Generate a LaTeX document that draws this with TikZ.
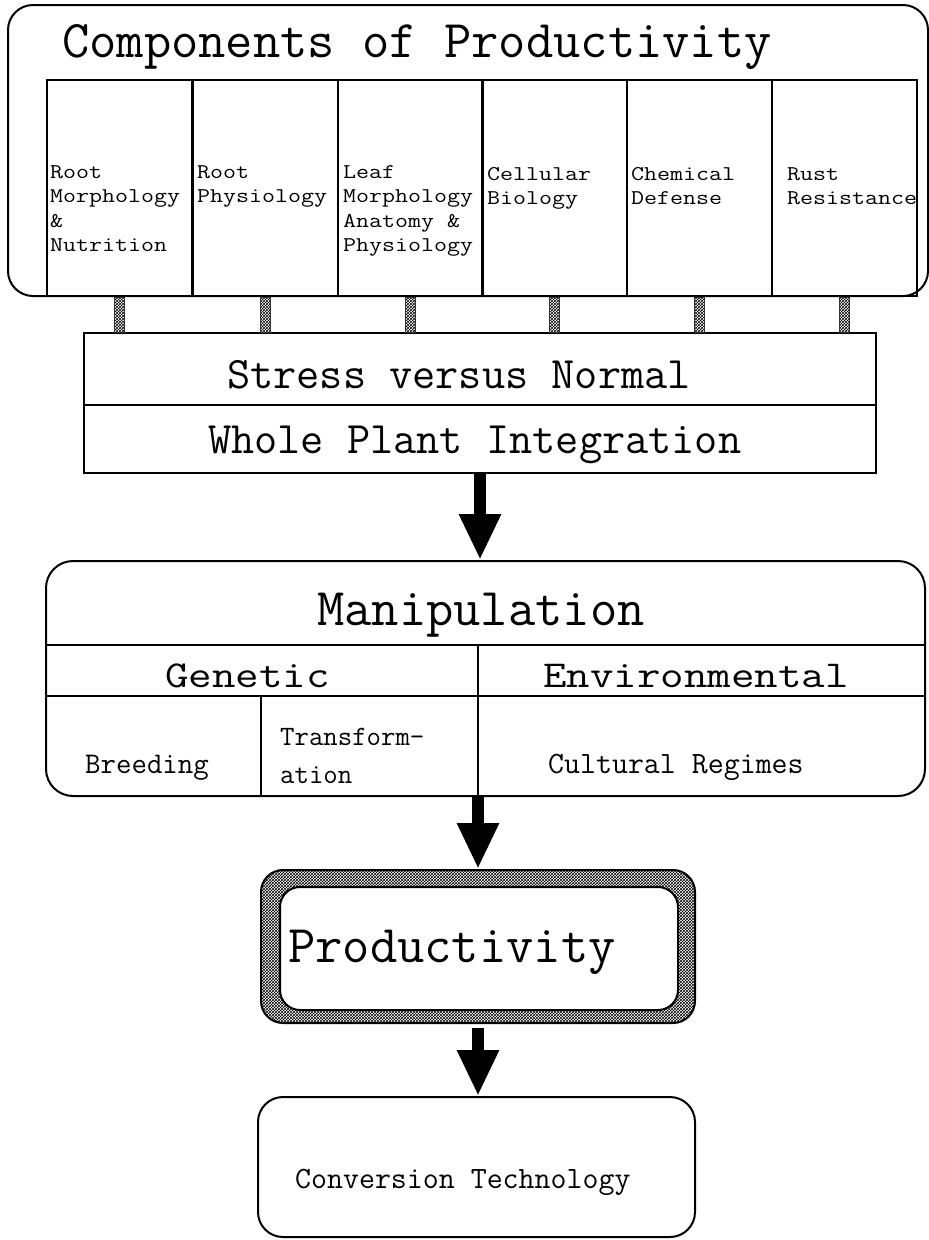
\documentclass[tikz,border=0pt]{standalone}
\usepackage{fontspec}
\setmonofont{Latin Modern Mono}
\newfontfamily\widemono[FakeStretch=1.2]{Latin Modern Mono}
\usetikzlibrary{arrows.meta,patterns,calc}
\newcommand{\typesz}[2]{\fontsize{#1}{#2}\selectfont}
\tikzset{
  box/.style={draw,line width=2pt,inner sep=0pt},
  rbox/.style={box,rounded corners=25pt},
  lbl/.style={inner sep=0pt,anchor=base west,align=left,font=\ttfamily},
  cell/.style={lbl,font=\widemono\typesz{21}{24.6}},
  bigarrow/.style={line width=12pt,-{Triangle[width=39pt,length=46pt]}},
  bar/.style={pattern=crosshatch,draw=black!80,line width=0.6pt}
}
\begin{document}
\begin{tikzpicture}[x=1pt,y=-1pt]
    \useasboundingbox (0,0) rectangle (929,1240);
    % components (multi-line labels sit on their last baseline)
    \node[rbox,minimum width=920pt,minimum height=291pt] (comp) at (468,150.5) {};
    \node[lbl,font=\ttfamily\typesz{53}{60}] (comptitle) at (62,57) {Components of Productivity};
    \foreach \i/\cx in {1/119,2/265,3/410,4/554,5/699,6/844}
        \node[box,minimum width=145pt,minimum height=216pt] (col\i) at (\cx,188) {};
    \node[cell] (t1) at (50,251.8) {Root\\Morphology\\\&\\Nutrition};
    \node[cell] (t2) at (197,202.6) {Root\\Physiology};
    \node[cell] (t3) at (343,251.8) {Leaf\\Morphology\\Anatomy \&\\Physiology};
    \node[cell] (t4) at (487,204.6) {Cellular\\Biology};
    \node[cell] (t5) at (631,204.6) {Chemical\\Defense};
    \node[cell] (t6) at (787,204.6) {Rust\\Resistance};
    % stress / whole plant
    \node[box,minimum width=792pt,minimum height=72pt] (stress) at (480,369) {};
    \node[box,minimum width=792pt,minimum height=68pt] (whole) at (480,439) {};
    \node[lbl,font=\ttfamily\typesz{45}{50}] (stresstxt) at (227,388) {Stress versus Normal};
    \node[lbl,font=\ttfamily\typesz{45}{50}] (wholetxt) at (208,453) {Whole Plant Integration};
    \foreach \i in {1,...,6}
        \draw[bar] ($(col\i.south)+(-5,0)$) rectangle ($(col\i.south |- stress.north)+(5,0)$);
    % manipulation
    \node[rbox,rounded corners=27pt,minimum width=879pt,minimum height=235pt] (manip) at (485.5,678.5) {};
    \coordinate (split) at (478,645);
    \coordinate (gensplit) at (261,696);
    \draw[line width=2pt] (manip.west |- split) -- (manip.east |- split);
    \draw[line width=2pt] (manip.west |- gensplit) -- (manip.east |- gensplit);
    \draw[line width=2pt] (split) -- (split |- manip.south);
    \draw[line width=2pt] (gensplit) -- (gensplit |- manip.south);
    \node[lbl,font=\ttfamily\typesz{53}{60}] (maniptxt) at (317,625) {Manipulation};
    \node[lbl,font=\widemono\typesz{38}{40}] (genetic) at (165,687) {Genetic};
    \node[lbl,font=\widemono\typesz{38}{40}] (environ) at (543,687) {Environmental};
    \node[lbl,font=\ttfamily\typesz{30}{32}] (breeding) at (85,773) {Breeding};
    \node[lbl,font=\ttfamily\typesz{28}{38}] (transform) at (280,783) {Transform-\\ation};
    \node[lbl,font=\ttfamily\typesz{31}{33}] (cultural) at (548,773) {Cultural Regimes};
    % productivity
    \node[rbox,rounded corners=22pt,pattern=crosshatch,minimum width=434pt,minimum height=153pt] (prodring) at (478,946.5) {};
    \node[rbox,rounded corners=20pt,fill=white,minimum width=398pt,minimum height=123pt] (prod) at (479,948.5) {};
    \node[lbl,font=\ttfamily\typesz{53}{60}] (prodtxt) at (288,962) {Productivity};
    % conversion
    \node[rbox,minimum width=437pt,minimum height=140pt] (conv) at (476.5,1167) {};
    \node[lbl,font=\ttfamily\typesz{31}{33}] (convtxt) at (295,1188) {Conversion Technology};
    % arrows
    \draw[bigarrow] (whole.south) -- (whole.south |- manip.north);
    \draw[bigarrow] (split |- manip.south) -- (split |- prodring.north);
    \draw[bigarrow,shorten <=4pt] (prodring.south) -- (prodring.south |- conv.north);
\end{tikzpicture}
\end{document}
